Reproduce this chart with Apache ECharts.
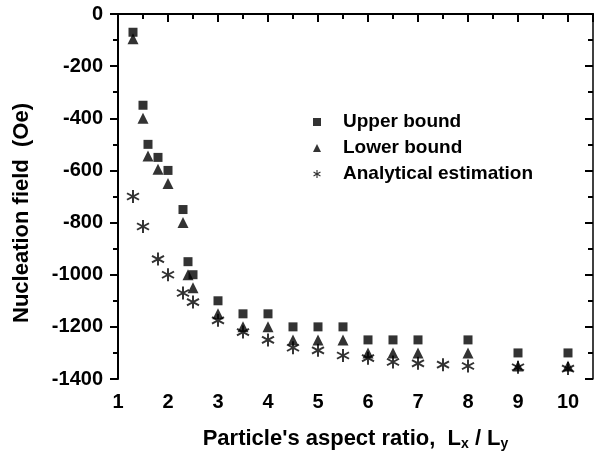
<!DOCTYPE html>
<html lang="en" style="height: 100%">
<head>
  <meta charset="utf-8">
</head>
<body style="height: 100%; margin: 0; background: #fff">
  <div id="container" style="height: 100%"></div>

  <script type="text/javascript" src="https://cdn.jsdelivr.net/npm/echarts@6/dist/echarts.min.js"></script>

  <script type="text/javascript">
    // aspect ratios (Lx / Ly) and nucleation field values (Oe)
    var boundX = [1.3, 1.5, 1.6, 1.8, 2.0, 2.3, 2.4, 2.5, 3, 3.5, 4, 4.5, 5, 5.5, 6, 6.5, 7, 8, 9, 10];
    var upperBound = [-70, -350, -500, -550, -600, -750, -950, -1000, -1100, -1150, -1150, -1200, -1200, -1200, -1250, -1250, -1250, -1250, -1300, -1300];
    var lowerBound = [-95, -400, -545, -595, -650, -800, -1000, -1050, -1150, -1200, -1200, -1250, -1250, -1250, -1300, -1300, -1300, -1300, -1350, -1350];
    var analyticX = [1.3, 1.5, 1.8, 2.0, 2.3, 2.5, 3, 3.5, 4, 4.5, 5, 5.5, 6, 6.5, 7, 7.5, 8, 9, 10];
    var analytic = [-700, -815, -940, -1000, -1070, -1105, -1175, -1220, -1250, -1280, -1290, -1310, -1320, -1335, -1340, -1345, -1350, -1355, -1360];
    var seriesNames = ['Upper bound', 'Lower bound', 'Analytical estimation'];

    function pairs(xs, ys) {
      return xs.map(function (x, i) { return [x, ys[i]]; });
    }

    // six-armed asterisk built from three thin bars
    var star = 'path://M-1,-7L1,-7L1,7L-1,7Z' +
      'M5.562,-4.366L6.562,-2.634L-5.562,4.366L-6.562,2.634Z' +
      'M-6.562,-2.634L-5.562,-4.366L6.562,2.634L5.562,4.366Z';

    var font = 'Liberation Sans, Arial, sans-serif';
    var dom = document.getElementById('container');
    var myChart = echarts.init(dom, null, { renderer: 'canvas' });

    var option = {
      animation: false,
      grid: { left: 118, right: 12, top: 14, bottom: 78 },
      legend: {
        orient: 'vertical',
        left: 308,
        top: 107,
        itemWidth: 8,
        itemHeight: 8,
        itemGap: 6,
        data: seriesNames,
        textStyle: {
          fontFamily: font, fontWeight: 'bold', fontSize: 19, color: '#000',
          lineHeight: 20, padding: [0, 0, 0, 17]
        }
      },
      xAxis: [{
        type: 'value',
        min: 1, max: 10.5, interval: 1,
        name: "Particle's aspect ratio,  L{s|x} / L{s|y}",
        nameLocation: 'middle',
        nameGap: 47,
        nameTextStyle: {
          fontFamily: font, fontWeight: 'bold', fontSize: 22, color: '#000',
          rich: { s: { fontFamily: font, fontWeight: 'bold', fontSize: 14, color: '#000', padding: [11, 0, 0, 0] } }
        },
        axisLine: { lineStyle: { color: '#000', width: 2 } },
        axisTick: { inside: false, length: 8, lineStyle: { color: '#000', width: 2 } },
        minorTick: { show: true, splitNumber: 2, length: 5, lineStyle: { color: '#000', width: 2 } },
        axisLabel: {
          margin: 13, fontFamily: font, fontWeight: 'bold', fontSize: 20, color: '#000',
          formatter: function (v) { return Number.isInteger(v) ? String(v) : ''; }
        },
        splitLine: { show: false }
      }, {
        type: 'value',
        position: 'top',
        min: 1, max: 10.5, interval: 1,
        axisLine: { lineStyle: { color: '#000', width: 1.5 } },
        axisTick: { inside: true, length: 8, lineStyle: { color: '#000', width: 2 } },
        minorTick: { show: true, splitNumber: 2, length: 5, lineStyle: { color: '#000', width: 2 } },
        axisLabel: { show: false },
        splitLine: { show: false }
      }],
      yAxis: [{
        type: 'value',
        min: -1400, max: 0, interval: 200,
        name: 'Nucleation field  (Oe)',
        nameLocation: 'middle',
        nameGap: 85,
        nameTextStyle: {
          fontFamily: font, fontWeight: 'bold', fontSize: 22, color: '#000',
          padding: [0, 33, 0, 0]
        },
        axisLine: { lineStyle: { color: '#000', width: 2 } },
        axisTick: { inside: false, length: 8, lineStyle: { color: '#000', width: 2 } },
        minorTick: { show: true, splitNumber: 2, length: 5, lineStyle: { color: '#000', width: 2 } },
        axisLabel: {
          margin: 15, fontFamily: font, fontWeight: 'bold', fontSize: 20, color: '#000',
          formatter: function (v) { return String(v); }
        },
        splitLine: { show: false }
      }, {
        type: 'value',
        position: 'right',
        min: -1400, max: 0, interval: 200,
        axisLine: { lineStyle: { color: '#000', width: 1.5 } },
        axisTick: { inside: true, length: 8, lineStyle: { color: '#000', width: 2 } },
        minorTick: { show: true, splitNumber: 2, length: 5, lineStyle: { color: '#000', width: 2 } },
        axisLabel: { show: false },
        splitLine: { show: false }
      }],
      series: [{
        name: seriesNames[0],
        type: 'scatter',
        symbol: 'rect',
        symbolSize: 9,
        itemStyle: { color: '#000' },
        data: pairs(boundX, upperBound)
      }, {
        name: seriesNames[1],
        type: 'scatter',
        symbol: 'triangle',
        symbolSize: 11,
        itemStyle: { color: '#000' },
        data: pairs(boundX, lowerBound)
      }, {
        name: seriesNames[2],
        type: 'scatter',
        symbol: star,
        symbolSize: 13,
        itemStyle: { color: '#000' },
        data: pairs(analyticX, analytic)
      }]
    };

    myChart.setOption(option);
    window.addEventListener('resize', myChart.resize);
  </script>
</body>
</html>
